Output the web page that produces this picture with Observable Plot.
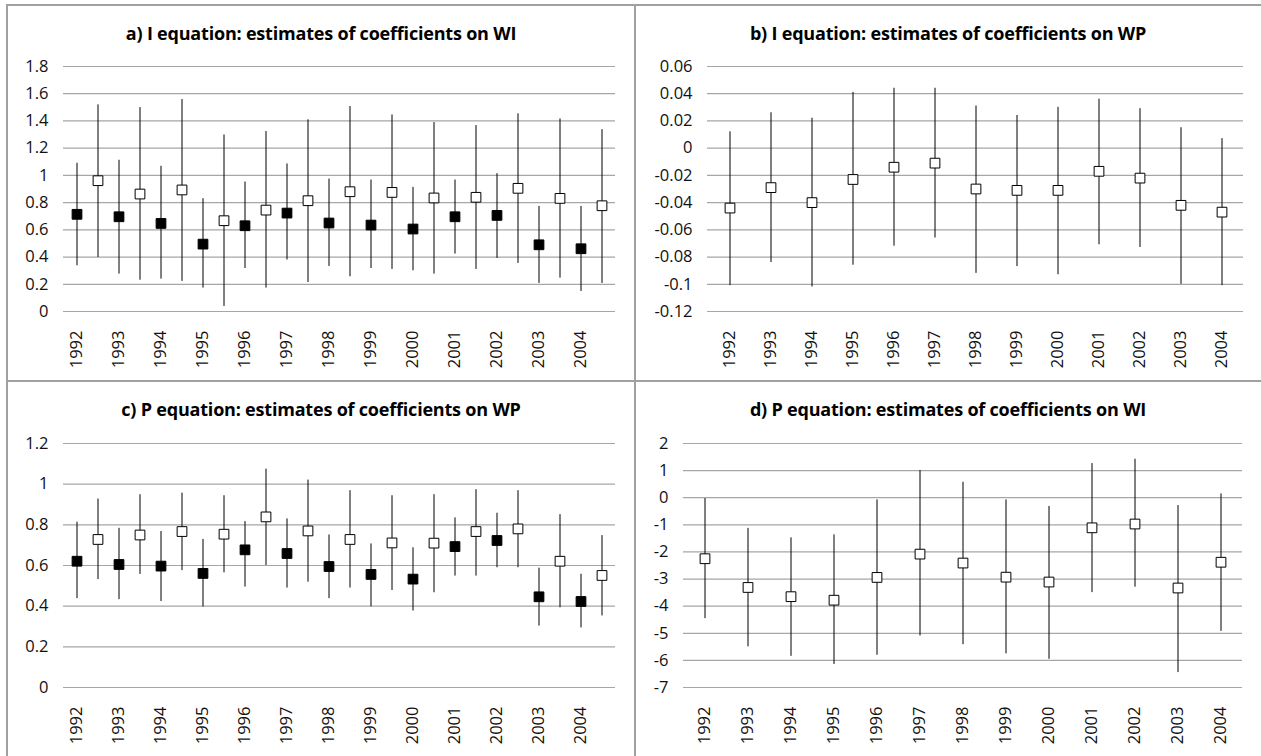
<!DOCTYPE html>
<html>
<head>
<meta charset="utf-8">
<script src="https://cdn.jsdelivr.net/npm/d3@7"></script>
<script src="https://cdn.jsdelivr.net/npm/@observablehq/plot@0.6"></script>
<style>
  html, body { margin: 0; padding: 0; background: #fff; }
  #fig { position: relative; width: 1261px; height: 756px; font-family: "Open Sans", Lato, sans-serif; overflow: hidden; }
  .rule { position: absolute; background: #a0a0a0; }
  .title { position: absolute; font-weight: bold; font-size: 18px; text-align: center; color: #000; white-space: nowrap; line-height: 24px; letter-spacing: -0.2px; }
  .panel { position: absolute; }
</style>
</head>
<body>
<div id="fig"></div>
<script>
// ---- categories ----
const years = ["1992","1993","1994","1995","1996","1997","1998","1999","2000","2001","2002","2003","2004"];

// ---- panel a: I equation, coefficients on WI ----
const aFilledEst = [0.714,0.696,0.647,0.495,0.630,0.723,0.650,0.635,0.606,0.696,0.706,0.490,0.461];
const aFilledLo  = [0.336,0.275,0.238,0.172,0.316,0.378,0.331,0.316,0.299,0.422,0.390,0.206,0.147];
const aFilledHi  = [1.089,1.111,1.067,0.829,0.951,1.084,0.973,0.966,0.912,0.966,1.013,0.772,0.772];
const aOpenEst   = [0.961,0.863,0.893,0.667,0.745,0.814,0.880,0.875,0.834,0.839,0.905,0.831,0.777];
const aOpenLo    = [0.397,0.230,0.221,0.037,0.172,0.213,0.255,0.309,0.275,0.309,0.353,0.245,0.206];
const aOpenHi    = [1.518,1.498,1.557,1.297,1.322,1.408,1.506,1.444,1.388,1.366,1.452,1.415,1.336];
const aTicks = [0,0.2,0.4,0.6,0.8,1,1.2,1.4,1.6,1.8];

// ---- panel b: I equation, coefficients on WP ----
const bEst = [-0.044,-0.029,-0.040,-0.023,-0.014,-0.011,-0.030,-0.031,-0.031,-0.017,-0.022,-0.042,-0.047];
const bLo  = [-0.101,-0.084,-0.102,-0.086,-0.072,-0.066,-0.092,-0.087,-0.093,-0.071,-0.073,-0.100,-0.101];
const bHi  = [0.012,0.026,0.022,0.041,0.044,0.044,0.031,0.024,0.030,0.036,0.029,0.015,0.007];
const bTicks = [-0.12,-0.1,-0.08,-0.06,-0.04,-0.02,0,0.02,0.04,0.06];

// ---- panel c: P equation, coefficients on WP ----
const cFilledEst = [0.621,0.605,0.597,0.561,0.677,0.659,0.595,0.556,0.533,0.693,0.723,0.446,0.423];
const cFilledLo  = [0.437,0.432,0.423,0.396,0.494,0.489,0.437,0.397,0.376,0.548,0.589,0.302,0.293];
const cFilledHi  = [0.813,0.783,0.767,0.728,0.816,0.829,0.750,0.706,0.687,0.834,0.857,0.587,0.557];
const cOpenEst   = [0.728,0.750,0.767,0.754,0.839,0.770,0.728,0.711,0.710,0.767,0.780,0.621,0.551];
const cOpenLo    = [0.531,0.556,0.575,0.564,0.600,0.518,0.489,0.477,0.466,0.548,0.589,0.392,0.352];
const cOpenHi    = [0.927,0.948,0.956,0.943,1.074,1.020,0.968,0.943,0.948,0.973,0.968,0.850,0.747];
const cTicks = [0,0.2,0.4,0.6,0.8,1,1.2];

// ---- panel d: P equation, coefficients on WI ----
const dEst = [-2.25,-3.31,-3.65,-3.78,-2.94,-2.08,-2.41,-2.93,-3.11,-1.11,-0.97,-3.33,-2.38];
const dLo  = [-4.46,-5.50,-5.85,-6.15,-5.81,-5.10,-5.42,-5.76,-5.96,-3.50,-3.30,-6.45,-4.93];
const dHi  = [-0.03,-1.13,-1.48,-1.37,-0.08,1.00,0.57,-0.08,-0.32,1.26,1.42,-0.29,0.14];
const dTicks = [-7,-6,-5,-4,-3,-2,-1,0,1,2];

const titles = [
  "a) I equation: estimates of coefficients on WI",
  "b) I equation: estimates of coefficients on WP",
  "c) P equation: estimates of coefficients on WP",
  "d) P equation: estimates of coefficients on WI"
];

const fig = document.getElementById("fig");

function addRule(l, t, w, h) {
  const d = document.createElement("div");
  d.className = "rule";
  Object.assign(d.style, {left: l + "px", top: t + "px", width: w + "px", height: h + "px"});
  fig.appendChild(d);
}

function pairedRows(fe, fl, fh, oe, ol, oh) {
  const rows = [];
  years.forEach((y, i) => {
    rows.push({slot: y, est: fe[i], lo: fl[i], hi: fh[i], fill: "#000"});
    rows.push({slot: y + "+", est: oe[i], lo: ol[i], hi: oh[i], fill: "#fff"});
  });
  return rows;
}
function singleRows(e, l, h) {
  return years.map((y, i) => ({slot: y, est: e[i], lo: l[i], hi: h[i], fill: "#fff"}));
}

function panel({title, left, top, width, height, ml, mr, mt, mb, rows, slots, ticks, titleTop}) {
  const t = document.createElement("div");
  t.className = "title";
  Object.assign(t.style, {left: left + "px", width: width + "px", top: titleTop + "px"});
  t.textContent = title;
  fig.appendChild(t);

  const chart = Plot.plot({
    width, height,
    marginLeft: ml, marginRight: mr, marginTop: mt, marginBottom: mb,
    style: {fontFamily: "'Open Sans', Lato, sans-serif", fontSize: "16.5px", color: "#000", background: "transparent"},
    x: {type: "band", domain: slots, paddingInner: 0, paddingOuter: 0},
    y: {domain: [d3.min(ticks), d3.max(ticks)]},
    marks: [
      Plot.gridY(ticks, {stroke: "#a6a6a6", strokeOpacity: 1, strokeWidth: 1.2}),
      Plot.axisY(ticks, {tickSize: 0, tickPadding: 15, tickFormat: d => String(d), fill: "#111", label: null, fontSize: 16.5}),
      Plot.axisX(years, {tickSize: 0, tickPadding: 19, tickRotate: -90, fill: "#111", label: null, fontSize: 16.5}),
      Plot.ruleX(rows, {x: "slot", y1: "lo", y2: "hi", stroke: "#000", strokeWidth: 1}),
      Plot.dot(rows, {x: "slot", y: "est", symbol: "square", r: 5.5, fill: "fill", stroke: "#000", strokeWidth: 1})
    ]
  });
  chart.classList.add("panel");
  Object.assign(chart.style, {left: left + "px", top: top + "px"});
  fig.appendChild(chart);
}

const pairedSlots = years.flatMap(y => [y, y + "+"]);

panel({title: titles[0], left: 7, top: 40, width: 628, height: 341, ml: 56, mr: 20, mt: 26, mb: 70, titleTop: 21,
  rows: pairedRows(aFilledEst, aFilledLo, aFilledHi, aOpenEst, aOpenLo, aOpenHi), slots: pairedSlots, ticks: aTicks});
panel({title: titles[1], left: 635, top: 40, width: 626, height: 341, ml: 72, mr: 18, mt: 26, mb: 70, titleTop: 21,
  rows: singleRows(bEst, bLo, bHi), slots: years, ticks: bTicks});
panel({title: titles[2], left: 7, top: 416, width: 628, height: 340, ml: 56, mr: 20, mt: 27, mb: 69, titleTop: 397,
  rows: pairedRows(cFilledEst, cFilledLo, cFilledHi, cOpenEst, cOpenLo, cOpenHi), slots: pairedSlots, ticks: cTicks});
panel({title: titles[3], left: 635, top: 416, width: 626, height: 340, ml: 48, mr: 19, mt: 27, mb: 69, titleTop: 397,
  rows: singleRows(dEst, dLo, dHi), slots: years, ticks: dTicks});

// panel borders
addRule(7, 4, 1254, 2);
addRule(6, 4, 2, 752);
addRule(634, 4, 2, 752);
addRule(6, 380, 1255, 2);
</script>
</body>
</html>
